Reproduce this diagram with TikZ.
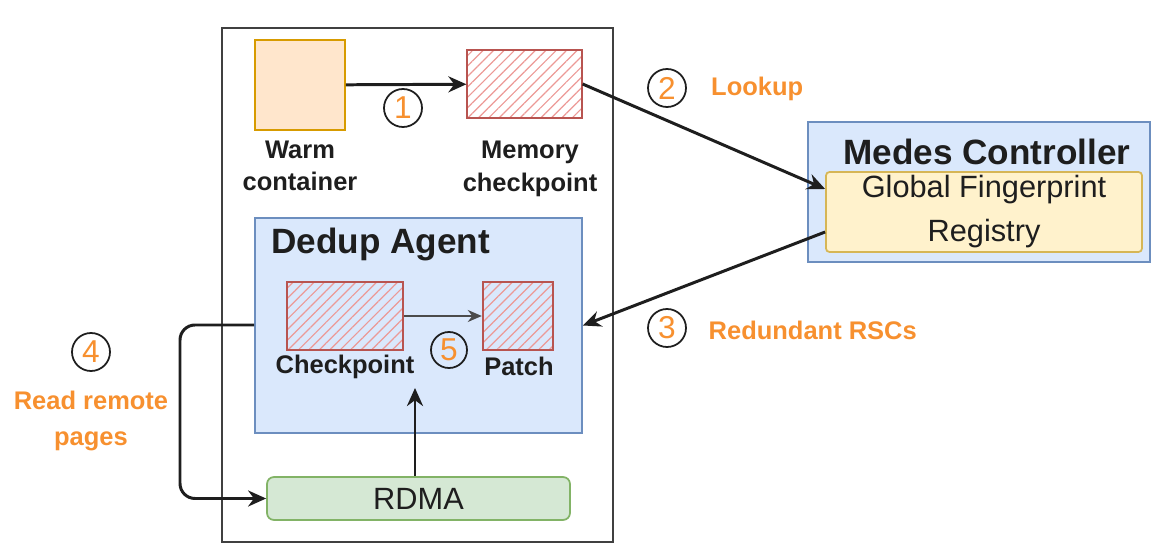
\documentclass[tikz,border=0pt]{standalone}
\usepackage{fontspec}
\setmainfont{Liberation Sans}
\usetikzlibrary{positioning,arrows.meta,patterns.meta,calc}
\definecolor{warmfill}{HTML}{FFE6CC}
\definecolor{warmline}{HTML}{D79B00}
\definecolor{ckptline}{HTML}{B85450}
\definecolor{hatchline}{HTML}{EC9996}
\definecolor{agentfill}{HTML}{DAE8FC}
\definecolor{agentline}{HTML}{6C8EBF}
\definecolor{regfill}{HTML}{FFF2CC}
\definecolor{regline}{HTML}{D6B656}
\definecolor{rdmafill}{HTML}{D5E8D4}
\definecolor{rdmaline}{HTML}{82B366}
\definecolor{stepcol}{HTML}{F7902F}
\definecolor{ink}{HTML}{1E1E1E}

\begin{document}
\begin{tikzpicture}[
  box/.style={draw, line width=1pt, inner sep=0pt, text=ink},
  warm/.style={box, fill=warmfill, draw=warmline},
  ckpt/.style={box, draw=ckptline, line width=1.4pt,
    pattern={Lines[angle=45, distance=4.2pt, line width=0.7pt]}, pattern color=hatchline},
  group/.style={box, fill=agentfill, draw=agentline},
  reg/.style={box, fill=regfill, draw=regline, rounded corners=2pt, align=center,
    font=\fontsize{17.5}{25}\selectfont},
  rdma/.style={box, fill=rdmafill, draw=rdmaline, rounded corners=4pt,
    font=\fontsize{17.5}{20}\selectfont},
  caption/.style={align=center, text=ink, font=\bfseries\fontsize{14.5}{18.5}\selectfont},
  title/.style={text=ink, font=\bfseries\fontsize{20}{22}\selectfont},
  stepno/.style={circle, draw=ink, line width=1pt, minimum size=0.76cm, inner sep=0pt,
    text=stepcol, font=\fontsize{18}{18}\selectfont},
  steplbl/.style={align=center, text=stepcol, font=\bfseries\fontsize{14.5}{21}\selectfont},
  flow/.style={-{Stealth[length=3.6mm, width=3.2mm]}, line width=1.7pt, draw=ink},
  thin/.style={-{Stealth[length=2.8mm, width=2.4mm]}, line width=1pt, draw=ink!80},
]
\useasboundingbox (0,0) rectangle (23.06,10.88);

% ===== host node =====
\node[box, draw=ink!85, line width=1.3pt, minimum width=7.82cm, minimum height=10.28cm] (host) at (8.35,5.18) {};

\node[warm, minimum width=1.8cm, minimum height=1.8cm] (warm) at (6.0,9.18) {};
\node[ckpt, minimum width=2.3cm, minimum height=1.36cm] (mem) at (10.49,9.2) {};
\node[caption] (warmlbl) at (6.0,7.56) {Warm\\container};
\node[caption] (memlbl) at (10.6,7.5) {Memory\\checkpoint};
\draw[flow] (warm) -- (mem);
\node[stepno] (s1) at (8.06,8.72) {1};

% ===== dedup agent =====
\node[group, minimum width=6.54cm, minimum height=4.3cm] (agent) at (8.37,4.37) {};
\node[title, anchor=west] (agenttitle) at (5.3,6.0) {Dedup Agent};
\node[ckpt, minimum width=2.32cm, minimum height=1.36cm] (ck) at (6.9,4.56) {};
\node[ckpt, minimum width=1.4cm, minimum height=1.36cm] (patch) at (10.36,4.56) {};
\node[caption] (cklbl) at (6.9,3.54) {Checkpoint};
\node[caption] (patchlbl) at (10.38,3.56) {Patch};
\draw[thin] (ck) -- (patch);
\node[stepno, minimum size=0.72cm] (s5) at (8.98,3.88) {5};

% ===== RDMA =====
\node[rdma, minimum width=6.06cm, minimum height=0.86cm] (rdma) at (8.37,0.91) {RDMA};
\coordinate (pull) at (8.3,3.12);
\draw[flow] (rdma.north-|pull) -- (pull);

% ===== remote read loop on the left =====
\draw[flow, rounded corners=0.3cm] ([yshift=0.01cm]agent.west) -- (3.6,4.38) |- (rdma.west);
\node[stepno] (s4) at (1.82,3.84) {4};
\node[steplbl] (s4lbl) at (1.82,2.46) {Read remote\\pages};

% ===== controller =====
\node[group, minimum width=6.84cm, minimum height=2.8cm] (ctrl) at (19.58,7.04) {};
\node[title] (ctrltitle) at (19.74,7.84) {Medes Controller};
\node[reg, minimum width=6.32cm, minimum height=1.6cm] (registry) at (19.68,6.64) {Global Fingerprint\\Registry};

\draw[flow] (mem.east) -- ([yshift=0.46cm]registry.west);
\node[stepno] (s2) at (13.34,9.12) {2};
\node[steplbl, anchor=west] (s2lbl) at (14.1,9.1) {Lookup};

\draw[flow] ([yshift=-0.4cm]registry.west) -- (agent.east);
\node[stepno] (s3) at (13.34,4.32) {3};
\node[steplbl, anchor=west] (s3lbl) at (14.05,4.28) {Redundant RSCs};

\end{tikzpicture}
\end{document}
